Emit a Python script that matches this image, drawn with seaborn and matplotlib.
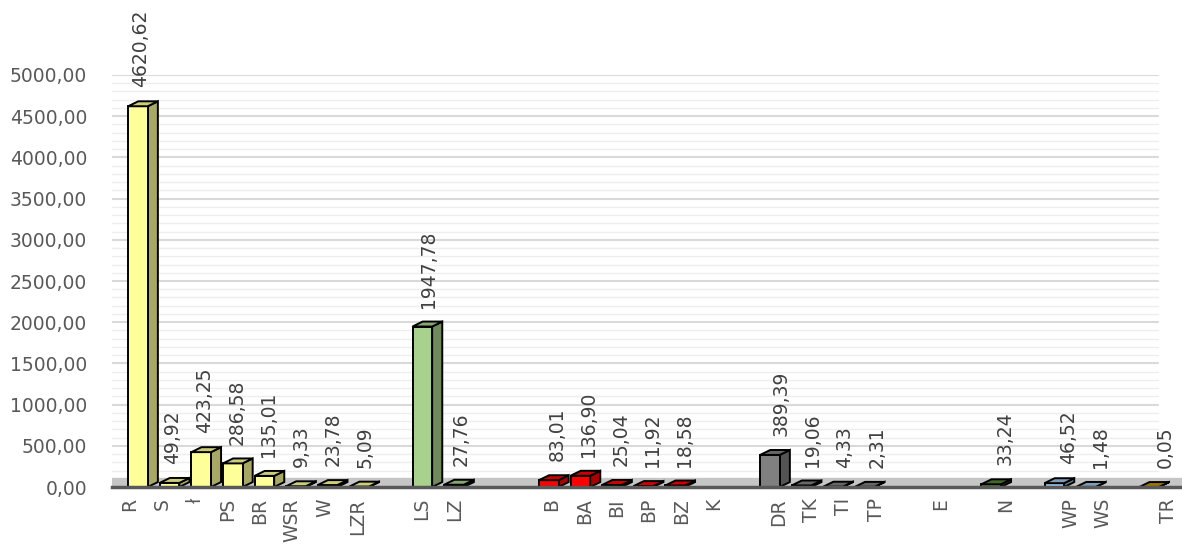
import numpy as np
import pandas as pd
import matplotlib
matplotlib.use("Agg")
import matplotlib.pyplot as plt
from matplotlib.patches import Polygon
from matplotlib.ticker import MultipleLocator
import matplotlib.colors as mcolors
import seaborn as sns

# ---- data ----
labels = ["R", "S", "ł", "PS", "BR", "WSR", "W", "LZR", "", "LS", "LZ", "", "",
          "B", "BA", "BI", "BP", "BZ", "K", "", "DR", "TK", "TI", "TP", "", "E", "",
          "N", "", "WP", "WS", "", "TR"]
values = [4620.62, 49.92, 423.25, 286.58, 135.01, 9.33, 23.78, 5.09, None,
          1947.78, 27.76, None, None,
          83.01, 136.90, 25.04, 11.92, 18.58, None, None,
          389.39, 19.06, 4.33, 2.31, None, None, None,
          33.24, None, 46.52, 1.48, None, 0.05]
groups = ["g1"] * 8 + [""] + ["g2"] * 2 + ["", ""] + ["g3"] * 6 + [""] + ["g4"] * 4 + \
         ["", "g5", ""] + ["g6", ""] + ["g7"] * 2 + [""] + ["g8"]
palette = {"g1": "#FFFF99", "g2": "#A9D18E", "g3": "#FF0000", "g4": "#808080",
           "g5": "#FFFFFF", "g6": "#548235", "g7": "#9DC3E6", "g8": "#BF9000"}
yticks = [0, 500, 1000, 1500, 2000, 2500, 3000, 3500, 4000, 4500, 5000]

keys = [f"c{i}" for i in range(len(labels))]
df = pd.DataFrame({"key": keys, "value": values, "group": groups})
df = df.dropna(subset=["value"])

# ---- figure ----
sns.set_theme(style="white")
plt.rcParams["font.family"] = ["DejaVu Sans"]
fig = plt.figure(figsize=(11.82, 5.45), dpi=100)
ax = fig.add_axes([0.0948, 0.1064, 0.9052, 0.756])

TXT = "#595959"

sns.barplot(data=df, x="key", y="value", hue="group", order=keys, palette=palette,
            dodge=False, width=0.62, saturation=1, edgecolor="black", linewidth=1.4,
            errorbar=None, legend=False, ax=ax, zorder=3)

ax.set_xlim(-0.82, 33.04)
ax.set_ylim(0, 5000)

# 3D side / top faces derived from each bar
ddx, ddy = 0.32, 60
for p in list(ax.patches):
    h = p.get_height()
    if not np.isfinite(h) or p.get_width() == 0:
        continue
    x0 = p.get_x()
    x1 = x0 + p.get_width()
    fc = np.array(mcolors.to_rgb(p.get_facecolor()))
    side = Polygon([(x1, 0), (x1 + ddx, ddy), (x1 + ddx, h + ddy), (x1, h)],
                   closed=True, facecolor=fc * 0.66, edgecolor="black", lw=1.4, zorder=2.9)
    top = Polygon([(x0, h), (x0 + ddx, h + ddy), (x1 + ddx, h + ddy), (x1, h)],
                  closed=True, facecolor=fc * 0.8, edgecolor="black", lw=1.4, zorder=3.1)
    ax.add_patch(side)
    ax.add_patch(top)

# floor of the 3D chart
ax.axhspan(0, 110, color="#C6C6C6", zorder=1)

# gridlines (major + minor), ending before the right edge like the 3D back wall
for t in np.arange(100, 5001, 100):
    major = (t % 500 == 0)
    ax.axhline(t, xmin=0, xmax=0.978, color="#D9D9D9" if major else "#EEEEEE",
               lw=1.5 if major else 1.0, zorder=0)

# data labels
for i, v in enumerate(values):
    if v is None:
        continue
    txt = f"{v:.2f}".replace(".", ",")
    ax.annotate(txt, (0.095 + 1.0127 * i, v + ddy), xytext=(0, 10),
                textcoords="offset points", rotation=90, ha="center", va="bottom",
                fontsize=13.5, color="#404040", annotation_clip=False, zorder=5)

# axes styling
ax.set_yticks(yticks)
ax.set_yticklabels([f"{t:.2f}".replace(".", ",") for t in yticks])

ax.set_xticks([-0.25 + 1.0266 * i for i in range(len(labels))])
ax.set_xticklabels(labels, rotation=90, fontsize=13.5, color=TXT, va="top")
ax.tick_params(axis="x", length=0, pad=8)
ax.tick_params(axis="y", length=0, pad=18, labelsize=13.5, labelcolor=TXT)
ax.set_xlabel("")
ax.set_ylabel("")

for s in ["left", "right", "top"]:
    ax.spines[s].set_visible(False)
ax.spines["bottom"].set_color("#595959")
ax.spines["bottom"].set_linewidth(2.5)
ax.spines["bottom"].set_zorder(4)

fig.savefig("out.png", dpi=100)
